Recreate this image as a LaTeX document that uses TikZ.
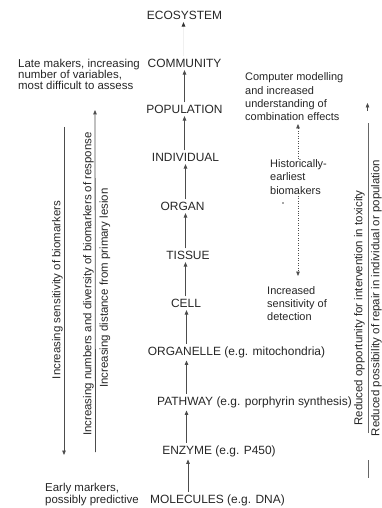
\documentclass[tikz,border=0pt]{standalone}
\usepackage{fontspec}
\setmainfont{Liberation Sans}
\usetikzlibrary{arrows.meta}
\begin{document}
\begin{tikzpicture}[x=1bp,y=-1bp,
  lbl/.style={inner sep=0pt, anchor=base, font=\fontsize{12}{12}\selectfont, text=black!85},
  notel/.style={inner sep=0pt, anchor=west, align=left, font=\fontsize{11.5}{11.2}\selectfont, text=black!85},
  noter/.style={inner sep=0pt, anchor=west, align=left, font=\fontsize{11}{13.4}\selectfont, text=black!85},
  vtxt/.style={inner sep=0pt, rotate=90, font=\fontsize{11.5}{12}\selectfont, text=black!85},
  tipa/.tip={Triangle[length=4.5pt,width=3.6pt]},
  arr/.style={draw=black!70, line width=0.8pt, -tipa, shorten >=2.5pt, shorten <=2.5pt},
  plain/.style={draw=black!60, line width=0.8pt},
  dots/.style={draw=black!70, line width=0.7pt, dash pattern=on 0.7pt off 1.8pt, tipa-tipa},
  ]
\useasboundingbox (0,0) rectangle (381,508);

% column coordinates for the central arrows
\coordinate (c183) at (183.5,0);
\coordinate (c184) at (184.5,0);
\coordinate (c185) at (185.5,0);
\coordinate (c186) at (186.5,0);
\coordinate (c188) at (188,0);

% central chain
\node[lbl] (eco)   at (184.5,19.3)  {ECOSYSTEM};
\node[lbl] (comm)  at (184.5,67.3)  {COMMUNITY};
\node[lbl] (pop)   at (184.5,113.3) {POPULATION};
\node[lbl] (ind)   at (185.5,161.3) {INDIVIDUAL};
\node[lbl] (organ) at (182.5,210.3) {ORGAN};
\node[lbl] (tis)   at (188,259.3)   {TISSUE};
\node[lbl] (cell)  at (186,307.3)   {CELL};
\node[lbl] (orgl)  at (236.5,355.3) {ORGANELLE (e.g. mitochondria)};
\node[lbl] (path)  at (254.5,405.3) {PATHWAY (e.g. porphyrin synthesis)};
\node[lbl] (enz)   at (219,454.3)   {ENZYME (e.g. P450)};
\node[lbl] (mol)   at (217.5,503.3) {MOLECULES (e.g. DNA)};

\draw[arr, draw=black!6, -{Triangle[length=4.5pt,width=3.6pt,color=black!80]}] (c183 |- comm.north) -- (c183 |- eco.south);
\draw[arr] (c184 |- pop.north)   -- (c184 |- comm.south);
\draw[arr] (c184 |- ind.north)   -- (c184 |- pop.south);
\draw[arr] (c185 |- organ.north) -- (c185 |- ind.south);
\draw[arr] (c185 |- tis.north)   -- (c185 |- organ.south);
\draw[arr] (c185 |- cell.north)  -- (c185 |- tis.south);
\draw[arr] (c186 |- orgl.north)  -- (c186 |- cell.south);
\draw[arr] (c186 |- path.north)  -- (c186 |- orgl.south);
\draw[arr] (c186 |- enz.north)   -- (c186 |- path.south);
\draw[arr] (c188 |- mol.north)   -- (c188 |- enz.south);

% left notes
\node[notel] (late) at (18,74.5) {Late makers, increasing\\number of variables,\\most difficult to assess};
\node[notel, font=\fontsize{11.5}{12.2}\selectfont] (early) at (45,494.5) {Early markers,\\possibly predictive};

% left vertical arrows
\coordinate (a1t) at (64,127);
\coordinate (a1b) at (64,455);
\draw[arr, shorten >=0pt, shorten <=0pt] (a1t) -- (a1b);
\node[vtxt] (t1) at (57.5,290) {Increasing sensitivity of biomarkers};

\coordinate (a2b) at (95.5,452);
\coordinate (a2t) at (95,110);
\draw[arr, shorten >=0pt, shorten <=0pt] (a2b) -- (a2t);
\node[vtxt] (t2) at (88.5,284) {Increasing numbers and diversity of biomarkers of response};
\node[vtxt] (t3) at (105,288) {Increasing distance from primary lesion};

% right notes
\node[noter] (comp) at (245,97) {Computer modelling\\and increased\\understanding of\\combination effects};
\coordinate (dtop) at (298,124);
\coordinate (dbot) at (298,276);
\draw[dots] (dtop) -- (dbot);
\node[noter, fill=white, inner sep=1pt] (hist) at (269,177) {Historically-\\earliest\\biomakers};
\fill[black!70] (283,203) circle (0.8);
\node[noter] (incr) at (267,303.5) {Increased\\sensitivity of\\detection};

% right vertical arrow
\coordinate (r1) at (368,433);
\coordinate (r2) at (368,123);
\coordinate (r3) at (367.5,111);
\coordinate (r4) at (367.5,103);
\coordinate (r5) at (368.5,460);
\coordinate (r6) at (368.5,478);
\draw[plain] (r1) -- (r2);
\draw[arr, shorten >=0pt, shorten <=0pt] (r3) -- (r4);
\draw[plain] (r5) -- (r6);
\node[vtxt] (t4) at (359.5,308) {Reduced opportunity for intervention in toxicity};
\node[vtxt] (t5) at (376.5,298) {Reduced possibility of repair in individual or population};
\end{tikzpicture}
\end{document}
